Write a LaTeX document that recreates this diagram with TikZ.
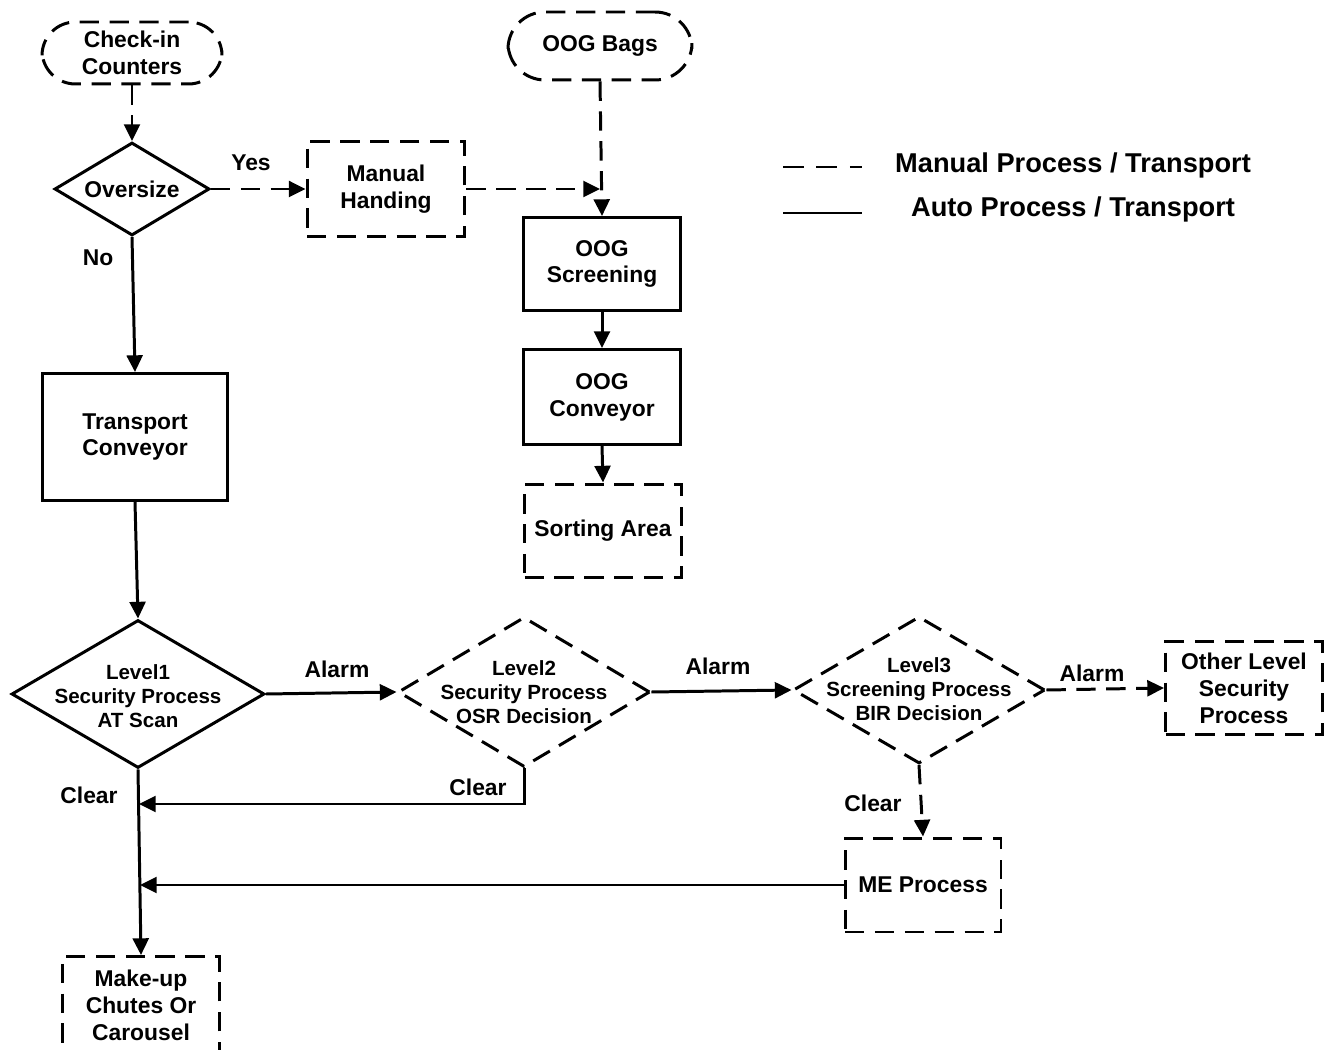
\documentclass[tikz,border=0pt]{standalone}
\usepackage{fontspec}
\setmainfont{Liberation Sans}
\usetikzlibrary{arrows.meta,shapes.geometric}
\begin{document}
\begin{tikzpicture}[x=0.02cm,y=-0.02cm,
  every node/.style={font=\fontsize{13}{15.3}\selectfont\bfseries},
  lw/.style={line width=1.7pt},
  manln/.style={lw, dash pattern=on 11pt off 6pt},
  autoln/.style={lw},
  arr/.style={-{Triangle[length=9.5pt,width=9pt]}},
  box/.style={draw, lw, rectangle, align=center, inner sep=0pt},
  autobox/.style={box},
  manbox/.style={box, dash pattern=on 11pt off 6pt},
  startbox/.style={manbox, rounded corners=19pt},
  diam/.style={draw, lw, diamond, inner sep=0pt},
  mandiam/.style={diam, dash pattern=on 11pt off 6pt},
  dtext/.style={align=center, font=\fontsize{11.7}{13.6}\selectfont\bfseries},
  lbl/.style={inner sep=0pt},
  legtext/.style={font=\fontsize{15.5}{18}\selectfont\bfseries, inner sep=0pt}
]
\useasboundingbox (0,0) rectangle (1335,1050);

% nodes
\node[startbox, minimum width=3.6cm, minimum height=1.24cm] (checkin) at (132,53) {Check-in\\Counters};
\node[diam, minimum width=3.1cm, minimum height=1.86cm] (oversize) at (132,189) {};
\node (oversizet) at (132,189) {Oversize};
\node[manbox, minimum width=3.16cm, minimum height=1.9cm] (manual) at (386,189) {Manual\\Handing};
\node[startbox, minimum width=3.68cm, minimum height=1.36cm, rounded corners=21pt] (oogbags) at (600,46) {OOG Bags};
\node[autobox, minimum width=3.14cm, minimum height=1.86cm] (oogscr) at (602,264) {OOG\\Screening};
\node[autobox, minimum width=3.14cm, minimum height=1.9cm] (oogconv) at (602,397) {OOG\\Conveyor};
\node[manbox, minimum width=3.14cm, minimum height=1.88cm] (sorting) at (603,531) {Sorting Area};
\node[autobox, minimum width=3.7cm, minimum height=2.54cm] (transport) at (135,437) {Transport\\Conveyor};

\node[diam, minimum width=5.06cm, minimum height=2.96cm] (l1) at (138,694) {};
\node[dtext] (l1t) at (138,696) {Level1\\Security Process\\AT Scan};
\node[mandiam, minimum width=5.04cm, minimum height=3.0cm] (l2) at (524,692) {};
\node[dtext] (l2t) at (524,692) {Level2\\Security Process\\OSR Decision};
\node[mandiam, minimum width=5.04cm, minimum height=2.94cm] (l3) at (919,690) {};
\node[dtext] (l3t) at (919,689) {Level3\\Screening Process\\BIR Decision};

\node[manbox, minimum width=3.14cm, minimum height=1.86cm] (other) at (1244,688) {Other Level\\Security\\Process};
\node[manbox, minimum width=3.12cm, minimum height=1.88cm] (me) at (923,885) {ME Process};
\node[manbox, minimum width=3.14cm, minimum height=1.94cm] (makeup) at (141,1005) {Make-up\\Chutes Or\\Carousel};

% helper coordinates
\coordinate (merge) at (600,189);
\coordinate (join1) at (139,804);
\coordinate (join2) at (140,885);

% connectors
\draw[manln, arr] (checkin.south) -- (oversize.north);
\draw[manln, arr] (oversize.east) -- (manual.west);
\draw[manln, arr] (manual.east) -- (merge);
\draw[manln, arr] (oogbags.south) -- (oogscr.north);
\draw[autoln, arr] (oogscr.south) -- (oogconv.north);
\draw[autoln, arr] (oogconv.south) -- (sorting.north);
\draw[autoln, arr] (oversize.south) -- (transport.north);
\draw[autoln, arr] (transport.south) -- (l1.north);
\draw[autoln, arr] (l1.east) -- (l2.west);
\draw[autoln, arr] (l2.south) |- (join1);
\draw[autoln, arr] (l2.east) -- (l3.west);
\draw[manln, arr] (l3.east) -- (other.west);
\draw[manln, arr] (l3.south) -- (me.north);
\draw[autoln, arr] (me.west) -- (join2);
\draw[autoln, arr] (l1.south) -- (makeup.north);

% labels
\node[lbl] (lyes) at (251,163) {Yes};
\node[lbl] (lno) at (98,258) {No};
\node[lbl] (lalarm1) at (337,669) {Alarm};
\node[lbl] (lalarm2) at (718,666) {Alarm};
\node[lbl] (lalarm3) at (1092,673) {Alarm};
\node[lbl] (lclear1) at (478,787) {Clear};
\node[lbl] (lclear2) at (89,795) {Clear};
\node[lbl] (lclear3) at (873,803) {Clear};

% legend
\coordinate (lg1a) at (783,167);
\coordinate (lg1b) at (862,167);
\coordinate (lg2a) at (783,213);
\coordinate (lg2b) at (862,213);
\draw[lw, dash pattern=on 12pt off 7pt] (lg1a) -- (lg1b);
\draw[lw] (lg2a) -- (lg2b);
\node[legtext] (legman) at (1073,165) {Manual Process / Transport};
\node[legtext] (legauto) at (1073,209) {Auto Process / Transport};
\end{tikzpicture}
\end{document}
